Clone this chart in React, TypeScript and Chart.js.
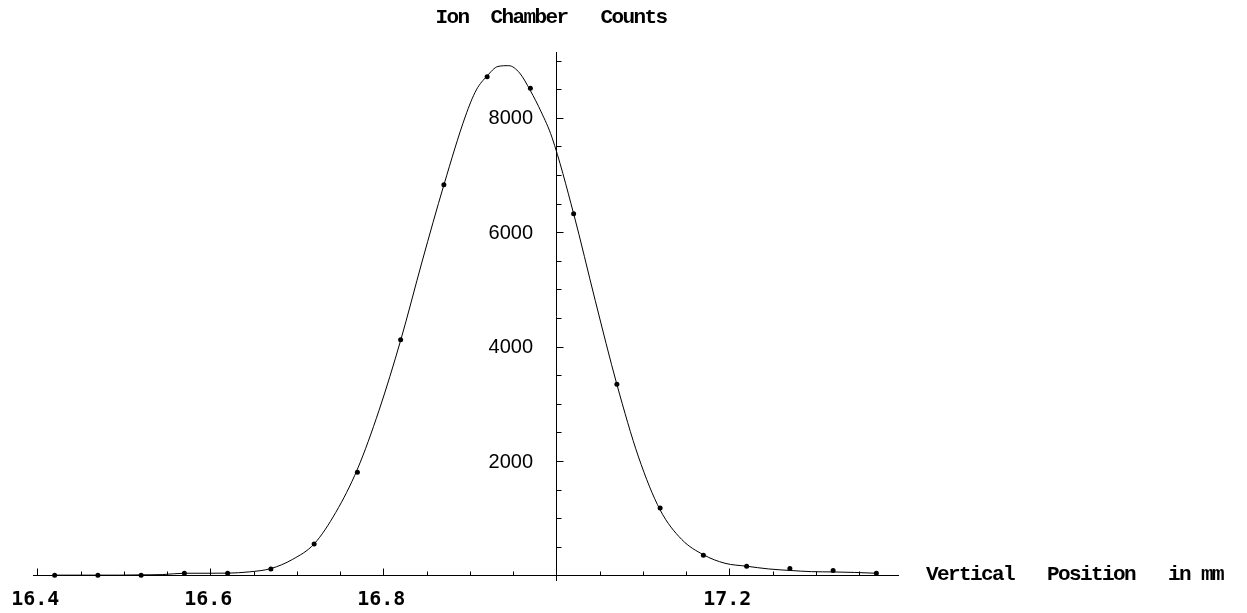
import { useEffect, useRef } from 'react';
import { Chart, registerables } from 'chart.js';

Chart.register(...registerables);

// Measured data points (Vertical position in mm, ion chamber counts)
const pointX = [16.42, 16.47, 16.52, 16.57, 16.62, 16.67, 16.72, 16.77, 16.82, 16.87,
  16.92, 16.97, 17.02, 17.07, 17.12, 17.17, 17.22, 17.27, 17.32, 17.37];
const pointY = [5, 5, 5, 38, 38, 114, 551, 1804, 4122, 6831,
  8719, 8516, 6324, 3342, 1180, 353, 161, 119, 84, 38];

// Fitted curve, values
const curveX = [16.42, 16.445, 16.47, 16.495, 16.52, 16.545, 16.57, 16.595, 16.62, 16.645,
  16.67, 16.695, 16.72, 16.745, 16.77, 16.795, 16.82, 16.845, 16.87, 16.895,
  16.9075, 16.92, 16.9325, 16.945, 16.9575, 16.97, 16.9825, 16.995, 17.02, 17.045,
  17.07, 17.095, 17.12, 17.145, 17.17, 17.195, 17.22, 17.245, 17.27, 17.295,
  17.32, 17.345, 17.37];
const curveY = [5, 5, 5, 5, 10, 15, 38, 38, 40, 62,
  120, 280, 551, 1101, 1856, 2884, 4108, 5497, 6826, 8032,
  8487, 8731, 8897, 8911, 8784, 8474, 8102, 7656, 6324, 4804,
  3339, 2071, 1145, 628, 362, 212, 161, 114, 87, 66,
  61, 52, 38];

// Axis ticks: major labelled ticks and minor tick steps
const xTickLabels = ['16.4', '16.6', '16.8', '17.2'];
const yTickLabels = ['2000', '4000', '6000', '8000'];
const xTitle = 'Vertical   Position   in mm';
const yTitle = 'Ion  Chamber   Counts';

const X_MIN = 16.395;
const X_MAX = 17.395;
const Y_MIN = -80;
const Y_MAX = 9150;
const X_CROSS = 17;
const Y_CROSS = 0;
const X_TICK_FIRST = 16.4;
const X_TICK_STEP = 0.05;
const X_MAJOR_STEP = 0.2;
const Y_TICK_STEP = 500;
const Y_MAJOR_STEP = 2000;

const fmt1 = (v: number) => (Math.round(v * 10) / 10).toFixed(1);
const isMultiple = (v: number, step: number) => Math.abs(v / step - Math.round(v / step)) < 1e-6;

const axisDecor = {
  id: 'axisDecor',
  afterDraw(chart: any) {
    const { ctx, scales, chartArea } = chart;
    const xs = scales.x;
    const ys = scales.y;
    const y0 = Math.round(ys.getPixelForValue(Y_CROSS)) + 0.5;
    const x0 = Math.round(xs.getPixelForValue(X_CROSS)) + 0.5;
    ctx.save();
    ctx.strokeStyle = '#000';
    ctx.lineWidth = 1;
    ctx.beginPath();
    xs.ticks.forEach((t: any) => {
      const px = Math.round(xs.getPixelForValue(t.value)) + 0.5;
      const len = isMultiple(t.value, X_MAJOR_STEP) ? 7 : 4;
      ctx.moveTo(px, y0);
      ctx.lineTo(px, y0 - len);
    });
    ys.ticks.forEach((t: any) => {
      const py = Math.round(ys.getPixelForValue(t.value)) + 0.5;
      const len = isMultiple(t.value, Y_MAJOR_STEP) ? 7 : 5;
      ctx.moveTo(x0, py);
      ctx.lineTo(x0 + len, py);
    });
    ctx.stroke();

    ctx.fillStyle = '#000';
    // x tick labels
    ctx.font = 'bold 20px "DejaVu Sans Mono"';
    ctx.textAlign = 'center';
    ctx.textBaseline = 'alphabetic';
    xs.ticks.forEach((t: any) => {
      const s = fmt1(t.value);
      if (isMultiple(t.value, 0.1) && xTickLabels.includes(s)) {
        ctx.fillText(s, xs.getPixelForValue(t.value) - 2, y0 + 29.5);
      }
    });
    // y tick labels
    ctx.font = '20px "Liberation Sans"';
    ctx.textAlign = 'right';
    ys.ticks.forEach((t: any) => {
      const s = String(Math.round(t.value));
      if (yTickLabels.includes(s)) {
        ctx.fillText(s, x0 - 23.5, ys.getPixelForValue(t.value) + 6.5);
      }
    });

    // axis titles
    ctx.font = 'bold 21px "Liberation Mono"';
    try { (ctx as any).letterSpacing = '-1.6px'; } catch (e) { /* ignore */ }
    ctx.textAlign = 'left';
    ctx.fillText(yTitle, x0 - 121, 23);
    ctx.fillText(xTitle, chartArea.right + 28, y0 + 4);
    ctx.restore();
  },
};

export default function App() {
  const ref = useRef<HTMLCanvasElement | null>(null);

  useEffect(() => {
    if (!ref.current) return;
    const curve = curveX.map((x, i) => ({ x, y: curveY[i] }));
    const pts = pointX.map((x, i) => ({ x, y: pointY[i] }));
    const chart = new Chart(ref.current, {
      type: 'scatter',
      data: {
        datasets: [
          {
            type: 'line',
            data: curve,
            borderColor: '#000',
            borderWidth: 1,
            pointRadius: 0,
            cubicInterpolationMode: 'monotone',
            fill: false,
            order: 2,
          } as any,
          {
            type: 'scatter',
            data: pts,
            backgroundColor: '#000',
            borderColor: '#000',
            pointRadius: 2.5,
            borderWidth: 0,
            showLine: false,
            order: 1,
          } as any,
        ],
      },
      options: {
        animation: false,
        responsive: false,
        layout: { autoPadding: false, padding: { left: 33, right: 349, top: 52, bottom: 33 } },
        plugins: { legend: { display: false }, tooltip: { enabled: false }, title: { display: false } },
        scales: {
          x: {
            type: 'linear',
            position: { y: Y_CROSS } as any,
            min: X_MIN,
            max: X_MAX,
            grid: { display: true, drawOnChartArea: false, drawTicks: false },
            border: { display: true, color: '#000', width: 1 },
            ticks: { display: false, autoSkip: false, maxRotation: 0 },
            afterBuildTicks: (scale: any) => {
              const t: any[] = [];
              for (let v = X_TICK_FIRST; v <= X_MAX + 1e-9; v += X_TICK_STEP) {
                t.push({ value: Math.round(v * 1000) / 1000 });
              }
              scale.ticks = t;
            },
          },
          y: {
            type: 'linear',
            position: { x: X_CROSS } as any,
            min: Y_MIN,
            max: Y_MAX,
            grid: { display: true, drawOnChartArea: false, drawTicks: false },
            border: { display: true, color: '#000', width: 1 },
            ticks: { display: false, autoSkip: false },
            afterBuildTicks: (scale: any) => {
              const t: any[] = [];
              for (let v = 0; v <= Y_MAX; v += Y_TICK_STEP) t.push({ value: v });
              scale.ticks = t;
            },
          },
        },
      },
      plugins: [axisDecor],
    } as any);
    return () => chart.destroy();
  }, []);

  return (
    <div style={{ position: 'fixed', left: 0, top: 0, width: 1247, height: 613, background: '#fff' }}>
      <canvas ref={ref} width={1247} height={613} style={{ display: 'block', width: 1247, height: 613 }} />
    </div>
  );
}
